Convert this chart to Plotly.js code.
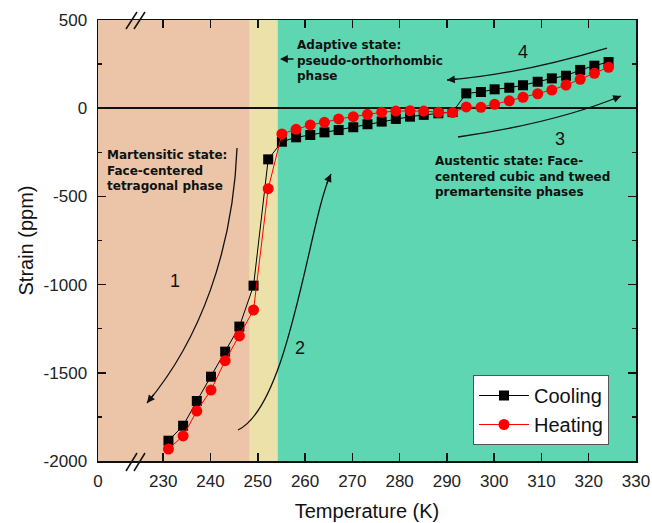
<!DOCTYPE html>
<html>
<head>
<meta charset="utf-8">
<script src="https://cdn.plot.ly/plotly-3.0.1.min.js"></script>
<style>html,body{margin:0;padding:0;background:#fff;}#chart{width:652px;height:523px;}</style>
</head>
<body>
<div id="chart"></div>
<script>
// ---- data ----
const temperature = [231.1, 234.2, 237.1, 240.1, 243.1, 246.1, 249.1, 252.2, 255.1, 258.1, 261.1, 264.1, 267.1, 270.2, 273.2, 276.2, 279.2, 282.2, 285.1, 288.2, 291.2, 294.1, 297.2, 300.1, 303.2, 306.1, 309.2, 312.2, 315.2, 318.2, 321.2, 324.2];
const coolingStrain = [-1885, -1800, -1660, -1522, -1380, -1238, -1006, -290, -190, -165, -152, -137, -124, -108, -91, -76, -61, -48, -38, -29, -22, 84, 92, 107, 116, 130, 150, 169, 184, 217, 241, 262];
const heatingStrain = [-1932, -1858, -1717, -1598, -1431, -1291, -1144, -456, -146, -120, -95, -80, -61, -48, -35, -23, -16, -14, -16, -23, -25, 7, 5, 22, 42, 62, 82, 103, 131, 164, 198, 232];
const seriesNames = ["Cooling", "Heating"];
// broken axis: the "0" label sits at the left edge of the plotted span
const xTickVals = [216.2, 230, 240, 250, 260, 270, 280, 290, 300, 310, 320, 330];
const xTickText = ["0", "230", "240", "250", "260", "270", "280", "290", "300", "310", "320", "330"];
const yTickVals = [-2000, -1500, -1000, -500, 0, 500];
const yTickText = ["-2000", "-1500", "-1000", "-500", "0", "500"];
const phaseBounds = [216.2, 248.3, 254.2, 330];
const phaseColors = ["rgb(236,197,168)", "rgb(237,225,170)", "rgb(94,214,178)"];

// ---- layout helpers (pixel -> paper) ----
const L = 98, R = 636, T = 20, B = 461;
function P(px, py) { return [(px - L) / (R - L), (B - py) / (B - T)]; }
function pt(px, py) { const p = P(px, py); return p[0].toFixed(4) + ',' + p[1].toFixed(4); }
function curve(a, b, c, d) { return 'M' + pt(a[0], a[1]) + ' C' + pt(b[0], b[1]) + ' ' + pt(c[0], c[1]) + ' ' + pt(d[0], d[1]); }

const shapes = [];
for (let i = 0; i < phaseColors.length; i++) {
  shapes.push({type: 'rect', xref: 'x', yref: 'paper', x0: phaseBounds[i], x1: phaseBounds[i + 1], y0: 0, y1: 1,
    fillcolor: phaseColors[i], line: {width: 0}, layer: 'below'});
}
const lineStyle = {color: '#111', width: 1.3};
// curved arrow bodies
shapes.push({type: 'path', xref: 'paper', yref: 'paper', path: curve([237, 148], [233, 250], [200, 340], [147, 403]), line: lineStyle});
shapes.push({type: 'path', xref: 'paper', yref: 'paper', path: curve([238, 430], [290, 405], [310, 215], [331, 174]), line: lineStyle});
shapes.push({type: 'path', xref: 'paper', yref: 'paper', path: curve([458, 137], [520, 128], [575, 115], [621, 96]), line: lineStyle});
shapes.push({type: 'path', xref: 'paper', yref: 'paper', path: curve([607, 48], [560, 62], [500, 76], [447, 80]), line: lineStyle});
// axis break marks
[[126, 29, 137, 12], [134, 29, 145, 12], [126, 471, 137, 453], [134, 471, 145, 453]].forEach(s => {
  const a = P(s[0], s[1]), b = P(s[2], s[3]);
  shapes.push({type: 'line', xref: 'paper', yref: 'paper', x0: a[0], y0: a[1], x1: b[0], y1: b[1], line: {color: '#111', width: 1.5}});
});

const annotations = [];
function head(px, py, ax, ay) {
  const p = P(px, py);
  annotations.push({xref: 'paper', yref: 'paper', x: p[0], y: p[1], ax: ax, ay: ay, text: '', showarrow: true,
    arrowhead: 2, arrowsize: 1.2, arrowwidth: 1.3, arrowcolor: '#111'});
}
head(147, 403, 8, -10);
head(331, 174, -5, 11);
head(621, 96, -10, 4);
head(447, 80, 11, -1);
head(280, 59, 15, 0);

const boldFont = {family: 'DejaVu Sans', size: 12, color: '#111', weight: 'bold'};
function label(px, py, text) {
  const p = P(px, py);
  annotations.push({xref: 'paper', yref: 'paper', x: p[0], y: p[1], xanchor: 'left', yanchor: 'top', align: 'left',
    text: text, showarrow: false, font: boldFont});
}
label(105, 146, '<b>Martensitic state:<br>Face-centered<br>tetragonal phase</b>');
label(294.5, 36, '<b>Adaptive state:<br>pseudo-orthorhombic<br>phase</b>');
label(432.5, 152, '<b>Austentic state: Face-<br>centered cubic and tweed<br>premartensite phases</b>');

const numFont = {family: 'Liberation Sans, Arial', size: 18, color: '#111'};
[[175, 281, '1'], [300, 348, '2'], [560, 139, '3'], [523, 52, '4']].forEach(n => {
  const p = P(n[0], n[1]);
  annotations.push({xref: 'paper', yref: 'paper', x: p[0], y: p[1], xanchor: 'center', yanchor: 'middle',
    text: n[2], showarrow: false, font: numFont});
});

const traces = [
  {x: temperature, y: coolingStrain, name: seriesNames[0], type: 'scatter', mode: 'lines+markers',
    line: {color: '#000', width: 1}, marker: {symbol: 'square', size: 10, color: '#000'}},
  {x: temperature, y: heatingStrain, name: seriesNames[1], type: 'scatter', mode: 'lines+markers',
    line: {color: '#ff0000', width: 1}, marker: {symbol: 'circle', size: 11, color: '#ff0000'}}
];

const axisFont = {family: 'Liberation Sans, Arial', size: 17, color: '#222'};
const layout = {
  width: 652, height: 523,
  margin: {l: L, r: 652 - R, t: T, b: 523 - B},
  paper_bgcolor: '#fff', plot_bgcolor: '#fff',
  showlegend: true,
  legend: {x: P(473, 0)[0], y: P(0, 375)[1], xanchor: 'left', yanchor: 'top', bgcolor: '#fff',
    bordercolor: '#555', borderwidth: 1, font: {family: 'Liberation Sans, Arial', size: 20, color: '#111'},
    tracegroupgap: 0, itemwidth: 50},
  xaxis: {
    range: [phaseBounds[0], 330], tickmode: 'array', tickvals: xTickVals, ticktext: xTickText,
    showgrid: false, zeroline: false, showline: true, linecolor: '#111', linewidth: 1.5, mirror: 'ticks',
    ticks: 'inside', ticklen: 8, tickwidth: 1.5, tickcolor: '#111', tickfont: axisFont, ticklabelstandoff: 4,
    title: {text: 'Temperature (K)', font: {family: 'Liberation Sans, Arial', size: 20, color: '#111'}, standoff: 14}
  },
  yaxis: {
    range: [-2000, 500], tickmode: 'array', tickvals: yTickVals, ticktext: yTickText,
    showgrid: false, zeroline: true, zerolinecolor: '#111', zerolinewidth: 1.5,
    showline: true, linecolor: '#111', linewidth: 1.5, mirror: 'ticks',
    ticks: 'inside', ticklen: 8, tickwidth: 1.5, tickcolor: '#111', tickfont: axisFont, ticklabelstandoff: 6,
    minor: {tickmode: 'linear', tick0: 250, dtick: 500, ticks: 'inside', ticklen: 4, tickwidth: 1.5, tickcolor: '#111'},
    title: {text: 'Strain (ppm)', font: {family: 'Liberation Sans, Arial', size: 20, color: '#111'}, standoff: 4}
  },
  shapes: shapes,
  annotations: annotations
};

Plotly.newPlot('chart', traces, layout, {displayModeBar: false, staticPlot: true});
</script>
</body>
</html>
